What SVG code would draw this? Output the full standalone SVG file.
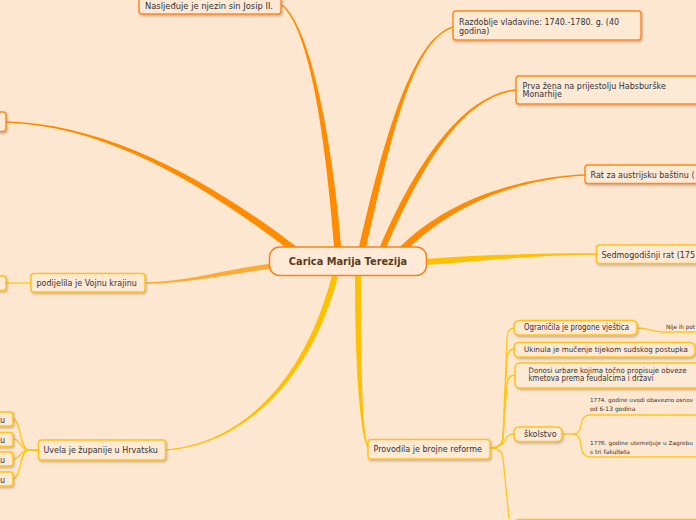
<svg xmlns="http://www.w3.org/2000/svg" width="696" height="520" viewBox="0 0 696 520">
<defs>
<filter id="sh" x="-10%" y="-30%" width="120%" height="170%">
<feDropShadow dx="1" dy="1.5" stdDeviation="0.8" flood-color="#7a6a5a" flood-opacity="0.45"/>
</filter>
<style>
.bg{fill:#fde7d0}
.on{fill:#fee9d5;stroke:#ff8c1a;stroke-width:1.5;filter:url(#sh)}
.yn{fill:#fee9d5;stroke:#ffc21a;stroke-width:1.5;filter:url(#sh)}
.t{font-family:"DejaVu Sans",Verdana,sans-serif;font-size:8px;fill:#333}
.tn{font-family:"DejaVu Sans",Verdana,sans-serif;font-size:7.4px;fill:#333}
.s{font-family:"DejaVu Sans",Verdana,sans-serif;font-size:6px;fill:#333}
.sn{font-family:"DejaVu Sans",Verdana,sans-serif;font-size:5.6px;fill:#333}
.c{font-family:"DejaVu Sans",Verdana,sans-serif;font-size:9.8px;font-weight:bold;fill:#5a3a1e}
.fo{fill:#ff8c00}
.fl{fill:#ffaa33}
.fy{fill:#ffc000}
.sub{fill:none;stroke:#ffc61a;stroke-width:1.3}
</style>
</defs>
<rect class="bg" x="0" y="0" width="696" height="520"/>
<g id="connectors">
<path class="fo" d="M341.5,249.7 C333.5,149.7 312.5,29.4 282.5,4.4 L281.5,5.6 C311.5,30.6 326.5,150.3 334.5,250.3 Z"/>
<path class="fo" d="M365.4,250.8 C388.4,150.8 410.2,40.8 453.2,27.8 L452.8,26.2 C409.8,39.2 381.6,149.2 358.6,249.2 Z"/>
<path class="fo" d="M384.8,251.2 C422.8,161.2 465.1,95.8 516.1,90.8 L515.9,89.2 C464.9,94.2 417.2,158.8 379.2,248.8 Z"/>
<path class="fo" d="M402.5,254.4 C447.5,207.4 515,178.8 585,175.8 L585,174.2 C515,177.2 442.5,202.6 397.5,249.6 Z"/>
<path class="fy" d="M426.2,265 C480.2,261 540,254.8 597,254.8 L597,253.2 C540,253.2 479.8,255 425.8,259 Z"/>
<path class="fo" d="M297.1,247.2 C212.1,182.2 110,124.3 6,121.3 L6,122.7 C110,125.7 207.9,187.8 292.9,252.8 Z"/>
<path class="fl" d="M271.7,263.5 C224.7,269.5 185,282.3 145,282.3 L145,283.7 C185,283.7 225.3,274.5 272.3,268.5 Z"/>
<path class="fy" d="M332.1,275.2 C302.1,389.2 235,444.3 166,449.3 L166,450.7 C235,445.7 307.9,390.8 337.9,276.8 Z"/>
<path class="fy" d="M355,276 C355,380 361.4,440.5 368.4,448.5 L369.6,447.5 C362.6,439.5 361,380 361,276 Z"/>
<path class="sub" d="M31,283 L6,283"/>
<path class="sub" d="M38,450 L28,450 C20,450 21,419 13,419"/>
<path class="sub" d="M38,450 L28,450 C20,450 21,439 13,439"/>
<path class="sub" d="M38,450 L28,450 C20,450 21,459 13,459"/>
<path class="sub" d="M38,450 L28,450 C20,450 21,479 13,479"/>
<path class="sub" d="M490,448 Q502,448 503,438 L507,338 Q508,328 514,328"/>
<path class="sub" d="M490,448 Q502,448 503,438 L507,359 Q508,349 514,349"/>
<path class="sub" d="M490,448 Q502,448 503,438 L507,385 Q508,375 515,375"/>
<path class="sub" d="M490,448 Q502,448 505,440 Q508,434 514,434"/>
<path class="sub" d="M490,448 Q502,448 503,458 L509,519"/>
<path class="sub" d="M562,434 L573,434 Q580,434 581,425 Q582,415 590,415 L696,415"/>
<path class="sub" d="M573,434 Q580,434 581,445 Q582,457 590,457 L696,457"/>
<path class="sub" d="M637,328 C650,328 652,332 662,332 L696,332"/>
</g>
<g id="center">
<rect x="269.5" y="247" width="157" height="28.5" rx="10" fill="#feead6" stroke="#f5821f" stroke-width="1.5"/>
<text class="c" x="348" y="265" text-anchor="middle">Carica Marija Terezija</text>
</g>
<g id="n-josip">
<rect class="on" x="139" y="-6" width="142" height="20" rx="3"/>
<text class="t" x="145" y="8.5" textLength="128" lengthAdjust="spacingAndGlyphs">Nasljeđuje je njezin sin Josip II.</text>
</g>
<g id="n-razdoblje">
<rect class="on" x="453" y="11" width="188" height="29" rx="3"/>
<text class="t" x="459" y="24.5">Razdoblje vladavine: 1740.-1780. g. (40</text>
<text class="t" x="459" y="34">godina)</text>
</g>
<g id="n-prva">
<rect class="on" x="516" y="76" width="190" height="28" rx="3"/>
<text class="t" x="522.5" y="88.5">Prva žena na prijestolju Habsburške</text>
<text class="t" x="522.5" y="97">Monarhije</text>
</g>
<g id="n-rat">
<rect class="on" x="585" y="165" width="130" height="18.5" rx="3"/>
<text class="t" x="590.5" y="177.5">Rat za austrijsku baštinu (</text>
</g>
<g id="n-sedmo">
<rect class="yn" x="596.5" y="245" width="120" height="18.5" rx="3"/>
<text class="t" x="601.5" y="257.5">Sedmogodišnji rat (175</text>
</g>
<g id="n-left-top">
<rect class="on" x="-40" y="112" width="46" height="19.5" rx="3"/>
</g>
<g id="n-vojna">
<rect class="yn" x="31" y="273.5" width="114" height="18.5" rx="3"/>
<text class="t" x="36.5" y="286">podijelila je Vojnu krajinu</text>
</g>
<g id="n-vojna-child">
<rect class="yn" x="-40" y="276" width="46" height="14.5" rx="3"/>
</g>
<g id="n-zupanije">
<rect class="yn" x="38.5" y="440" width="127" height="20" rx="3"/>
<text class="t" x="43.5" y="452.5">Uvela je županije u Hrvatsku</text>
</g>
<g id="n-z1">
<rect class="yn" x="-50" y="412" width="63" height="14" rx="3"/>
<text class="t" x="0" y="422.5">u</text>
</g>
<g id="n-z2">
<rect class="yn" x="-50" y="432.5" width="63" height="14" rx="3"/>
<text class="t" x="0" y="443">u</text>
</g>
<g id="n-z3">
<rect class="yn" x="-50" y="452" width="63" height="14" rx="3"/>
<text class="t" x="0" y="462.5">u</text>
</g>
<g id="n-z4">
<rect class="yn" x="-50" y="472" width="63" height="14" rx="3"/>
<text class="t" x="0" y="482.5">u</text>
</g>
<g id="n-reforme">
<rect class="yn" x="368" y="439.5" width="122" height="19.5" rx="3"/>
<text class="t" x="373.5" y="451.5">Provodila je brojne reforme</text>
</g>
<g id="n-vjestice">
<rect class="yn" x="514" y="320.5" width="123" height="14.5" rx="5"/>
<text class="t" x="524" y="330" textLength="105" lengthAdjust="spacingAndGlyphs">Ograničila je progone vještica</text>
</g>
<g id="n-nije">
<text class="s" x="666" y="329" textLength="29" lengthAdjust="spacingAndGlyphs">Nije ih pot</text>
</g>
<g id="n-mucenje">
<rect class="yn" x="514" y="342.5" width="181" height="14.5" rx="5"/>
<text class="tn" x="524" y="352" textLength="164" lengthAdjust="spacingAndGlyphs">Ukinula je mučenje tijekom sudskog postupka</text>
</g>
<g id="n-urbari">
<rect class="yn" x="515" y="363" width="200" height="25" rx="5"/>
<text class="tn" x="528.5" y="372.5" textLength="158" lengthAdjust="spacingAndGlyphs">Donosi urbare kojima točno propisuje obveze</text>
<text class="t" x="528.5" y="381" textLength="125" lengthAdjust="spacingAndGlyphs">kmetova prema feudalcima i državi</text>
</g>
<g id="n-skolstvo">
<rect class="yn" x="514" y="427" width="48" height="14.5" rx="5"/>
<text class="t" x="524" y="437">školstvo</text>
</g>
<g id="n-1774">
<text class="sn" x="590" y="402" textLength="103" lengthAdjust="spacingAndGlyphs">1774. godine uvodi obavezno osnov</text>
<text class="s" x="590" y="410.5">od 6-13 godina</text>
</g>
<g id="n-1776">
<text class="sn" x="590" y="445" textLength="103" lengthAdjust="spacingAndGlyphs">1776. godine utemeljuje u Zagrebu</text>
<text class="s" x="590" y="453.5">s tri fakulteta</text>
</g>
<g id="n-bottom">
<rect class="yn" x="514" y="519.5" width="200" height="20" rx="5"/>
</g>
</svg>
